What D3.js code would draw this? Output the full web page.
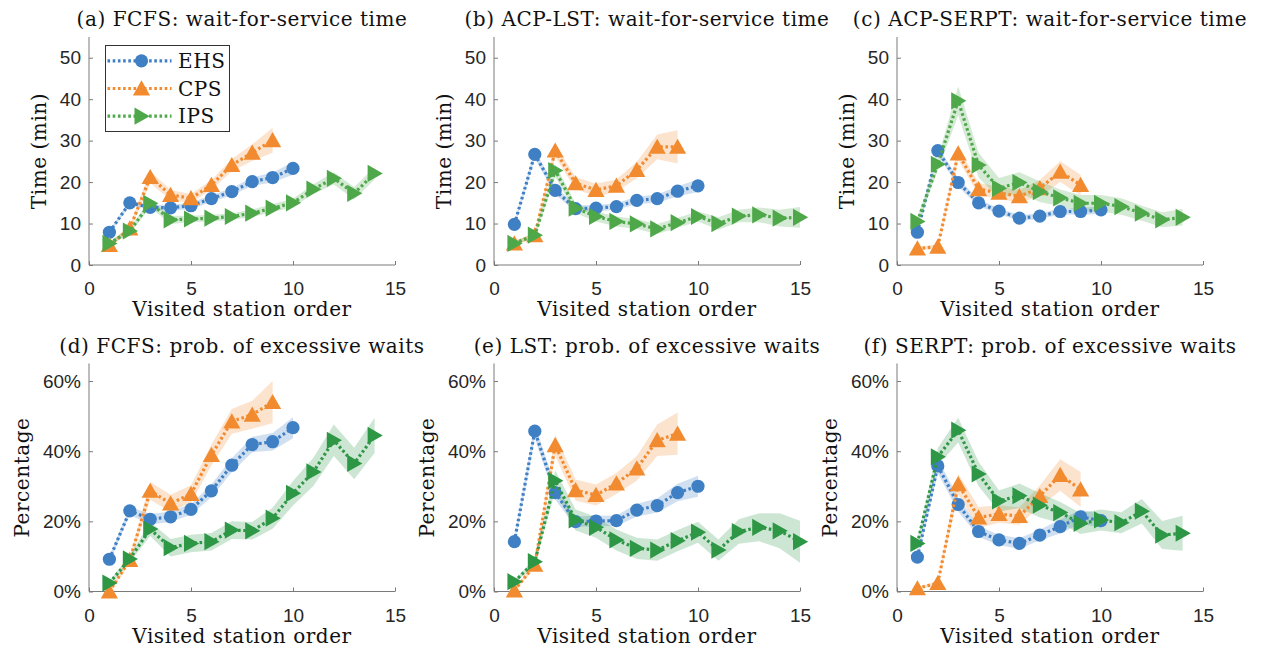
<!DOCTYPE html>
<html>
<head>
<meta charset="utf-8">
<script src="https://cdn.jsdelivr.net/npm/d3@7"></script>
<style>
  body { margin: 0; background: #fff; }
  svg { display: block; }
</style>
</head>
<body>
<svg id="chart" width="1269" height="653"></svg>
<script>
const seriesNames = ['EHS', 'CPS', 'IPS'];
const xTicks = [0, 5, 10, 15];
const timeTicks = [0, 10, 20, 30, 40, 50];
const pctTicks = [0, 20, 40, 60];
const titles = [
  '(a) FCFS: wait-for-service time',
  '(b) ACP-LST: wait-for-service time',
  '(c) ACP-SERPT: wait-for-service time',
  '(d) FCFS: prob. of excessive waits',
  '(e) LST: prob. of excessive waits',
  '(f) SERPT: prob. of excessive waits'
];

// (a) FCFS, wait time (min), mean and CI half width
const aEHS = [7.9, 15.0, 13.9, 13.8, 14.3, 16.0, 17.7, 20.1, 21.1, 23.3];
const aEHSci = [0.5, 0.6, 0.7, 0.7, 0.8, 0.8, 0.9, 1.0, 1.2, 1.5];
const aCPS = [4.8, 8.8, 21.2, 16.9, 16.1, 19.3, 24.1, 27.1, 30.1];
const aCPSci = [0.5, 0.7, 1.5, 1.2, 1.0, 1.2, 1.5, 2.0, 3.0];
const aIPS = [5.2, 8.2, 14.9, 10.9, 11.1, 11.3, 11.7, 12.5, 13.7, 15.0, 18.3, 20.9, 17.3, 22.1];
const aIPSci = [0.5, 0.7, 1.0, 1.0, 0.8, 0.8, 0.8, 0.9, 1.0, 1.0, 1.2, 1.5, 1.5, 1.5];

// (b) ACP-LST, wait time (min)
const bEHS = [9.8, 26.7, 18.0, 13.6, 13.7, 14.1, 15.6, 16.0, 17.8, 19.1];
const bEHSci = [0.6, 1.0, 1.0, 0.8, 0.8, 0.8, 0.9, 1.0, 1.2, 1.5];
const bCPS = [5.2, 7.2, 27.6, 19.7, 18.1, 19.1, 22.9, 28.5, 28.5];
const bCPSci = [0.5, 0.6, 1.5, 1.5, 1.5, 1.5, 2.0, 3.0, 4.0];
const bIPS = [5.2, 7.2, 22.8, 13.7, 11.7, 10.5, 9.9, 8.7, 10.2, 11.7, 10.0, 11.8, 12.1, 11.3, 11.5];
const bIPSci = [0.5, 0.6, 1.5, 1.2, 1.2, 1.2, 1.2, 1.2, 1.2, 1.2, 1.5, 1.5, 1.8, 2.0, 2.5];

// (c) ACP-SERPT, wait time (min)
const cEHS = [7.9, 27.6, 19.9, 15.0, 13.0, 11.3, 11.8, 12.9, 12.9, 13.3];
const cEHSci = [0.5, 1.0, 1.0, 0.8, 0.7, 0.7, 0.7, 0.7, 0.8, 1.0];
const cCPS = [4.0, 4.4, 26.9, 18.3, 17.4, 16.6, 18.5, 22.5, 19.3];
const cCPSci = [0.4, 0.5, 1.5, 1.5, 1.5, 1.5, 2.0, 2.5, 2.5];
const cIPS = [10.5, 24.3, 39.6, 24.1, 18.5, 19.9, 17.7, 16.2, 14.9, 14.9, 14.1, 12.5, 10.9, 11.5];
const cIPSci = [1.0, 1.5, 3.5, 3.0, 2.5, 2.5, 2.5, 2.0, 2.0, 2.0, 2.0, 1.8, 1.8, 2.0];

// (d) FCFS, excessive waits (%)
const dEHS = [9.2, 23.0, 20.6, 21.3, 23.4, 28.7, 36.0, 41.9, 42.7, 46.7];
const dEHSci = [0.8, 1.2, 1.5, 1.5, 1.5, 1.8, 2.0, 2.2, 2.5, 3.0];
const dCPS = [0.0, 9.0, 28.7, 25.1, 27.8, 38.9, 48.5, 50.4, 54.0];
const dCPSci = [0.3, 1.0, 2.5, 2.5, 2.5, 3.0, 3.5, 4.0, 6.0];
const dIPS = [2.4, 9.3, 17.8, 12.5, 13.7, 14.2, 17.5, 17.3, 20.9, 28.0, 34.1, 43.1, 36.5, 44.5];
const dIPSci = [0.5, 1.0, 2.0, 2.5, 2.5, 2.5, 2.5, 2.5, 3.0, 3.5, 4.0, 4.5, 4.5, 5.0];

// (e) LST, excessive waits (%)
const eEHS = [14.2, 45.7, 28.2, 19.9, 20.1, 20.2, 23.2, 24.5, 28.2, 30.0];
const eEHSci = [1.0, 2.0, 2.0, 1.5, 1.5, 1.5, 1.8, 2.0, 2.5, 3.0];
const eCPS = [0.3, 7.6, 41.7, 28.9, 27.5, 30.8, 35.1, 43.1, 45.0];
const eCPSci = [0.3, 1.0, 3.0, 3.0, 3.0, 3.0, 3.5, 4.5, 6.0];
const eIPS = [2.8, 8.5, 31.6, 20.4, 18.3, 14.7, 12.3, 11.8, 14.5, 16.9, 11.8, 17.1, 18.3, 17.3, 14.2];
const eIPSci = [0.5, 1.0, 3.0, 3.0, 3.0, 3.0, 3.0, 3.0, 3.0, 3.0, 3.0, 3.5, 4.0, 5.0, 6.0];

// (f) SERPT, excessive waits (%)
const fEHS = [9.8, 35.8, 24.8, 17.1, 14.7, 13.7, 16.1, 18.5, 21.3, 20.2];
const fEHSci = [1.0, 2.0, 2.0, 1.5, 1.5, 1.5, 1.5, 2.0, 2.0, 2.0];
const fCPS = [0.9, 2.4, 30.6, 21.1, 22.1, 21.5, 27.2, 33.2, 29.1];
const fCPSci = [0.3, 0.5, 3.0, 3.0, 2.5, 2.5, 3.0, 4.5, 5.0];
const fIPS = [13.7, 38.4, 46.0, 33.5, 25.8, 27.3, 24.6, 22.5, 19.4, 20.4, 19.6, 22.9, 16.1, 16.6];
const fIPSci = [1.0, 2.5, 3.5, 3.5, 3.0, 3.5, 3.5, 3.0, 3.0, 3.0, 3.0, 3.5, 4.0, 5.0];

const topColors = ['#3f7fc4', '#f28b30', '#4ea84a'];
const botColors = ['#3f7fc4', '#f28b30', '#2e9746'];
const serif = '"DejaVu Serif", "Liberation Serif", serif';
const sans = '"Liberation Sans", Arial, sans-serif';

const colX = [89, 494, 897];
const plotW = 306;
const plotH = 228;

const panels = [
  { title: titles[0], col: 0, top: 37, yMax: 55, ticks: timeTicks, pct: false, series: [[aEHS, aEHSci], [aCPS, aCPSci], [aIPS, aIPSci]], legend: true },
  { title: titles[1], col: 1, top: 37, yMax: 55, ticks: timeTicks, pct: false, series: [[bEHS, bEHSci], [bCPS, bCPSci], [bIPS, bIPSci]] },
  { title: titles[2], col: 2, top: 37, yMax: 55, ticks: timeTicks, pct: false, series: [[cEHS, cEHSci], [cCPS, cCPSci], [cIPS, cIPSci]] },
  { title: titles[3], col: 0, top: 363.5, yMax: 65, ticks: pctTicks, pct: true, series: [[dEHS, dEHSci], [dCPS, dCPSci], [dIPS, dIPSci]] },
  { title: titles[4], col: 1, top: 363.5, yMax: 65, ticks: pctTicks, pct: true, series: [[eEHS, eEHSci], [eCPS, eCPSci], [eIPS, eIPSci]] },
  { title: titles[5], col: 2, top: 363.5, yMax: 65, ticks: pctTicks, pct: true, series: [[fEHS, fEHSci], [fCPS, fCPSci], [fIPS, fIPSci]] }
];

const svg = d3.select('#chart');

// serif text in the LaTeX-like style of the figure
function serifText(sel) {
  return sel.style('font-family', serif).style('font-size', '20px')
    .style('letter-spacing', '0.55px').attr('fill', '#111');
}

// marker shapes (circle, up triangle, right triangle)
function drawMarker(sel, k, color) {
  if (k === 0) {
    sel.append('circle').attr('r', 6.6).attr('fill', color);
  } else if (k === 1) {
    sel.append('path').attr('d', 'M0,-8.2L8.6,7L-8.6,7Z').attr('fill', color);
  } else {
    sel.append('path').attr('d', 'M-7,-8.6L8.2,0L-7,8.6Z').attr('fill', color);
  }
}

panels.forEach((p) => {
  const colors = p.pct ? botColors : topColors;
  const g = svg.append('g').attr('transform', `translate(${colX[p.col]},${p.top})`);

  const x = d3.scaleLinear().domain([0, 15]).range([0, plotW]);
  const y = d3.scaleLinear().domain([0, p.yMax]).range([plotH, 0]);

  // axes
  const xAxis = g.append('g')
    .attr('transform', `translate(0,${plotH})`)
    .call(d3.axisBottom(x).tickValues(xTicks).tickSizeInner(-4).tickSizeOuter(0).tickPadding(17));
  const yAxis = g.append('g')
    .call(d3.axisLeft(y).tickValues(p.ticks).tickSizeInner(-4).tickSizeOuter(0).tickPadding(8)
      .tickFormat(d => p.pct ? d + '%' : d));
  [xAxis, yAxis].forEach((a) => {
    a.select('.domain').attr('stroke', '#7a7a7a').attr('stroke-width', 1);
    a.selectAll('.tick line').attr('stroke', '#7a7a7a');
    a.selectAll('.tick text').attr('fill', '#262626').style('font-family', sans).style('font-size', '19px');
  });
  // the y axis line runs to the top of the plot
  yAxis.select('.domain').attr('d', `M0,${plotH}V0`);
  xAxis.select('.domain').attr('d', `M0,0H${plotW}`);

  // title and labels
  g.append('text')
    .attr('x', plotW / 2).attr('y', -11)
    .attr('text-anchor', 'middle')
    .call(serifText)
    .text(p.title);
  g.append('text')
    .attr('x', plotW / 2).attr('y', plotH + 51)
    .attr('text-anchor', 'middle')
    .call(serifText)
    .text('Visited station order');
  g.append('text')
    .attr('transform', `translate(${p.pct ? -60 : -43},${plotH / 2}) rotate(-90)`)
    .attr('text-anchor', 'middle')
    .call(serifText)
    .text(p.pct ? 'Percentage' : 'Time (min)');

  // confidence bands
  p.series.forEach(([vals, ci], k) => {
    const area = d3.area()
      .x((d, i) => x(i + 1))
      .y0((d, i) => y(d - ci[i]))
      .y1((d, i) => y(d + ci[i]));
    g.append('path').datum(vals)
      .attr('d', area)
      .attr('fill', colors[k])
      .attr('fill-opacity', 0.24);
  });

  // dotted lines and markers
  p.series.forEach(([vals], k) => {
    const line = d3.line().x((d, i) => x(i + 1)).y(d => y(d));
    g.append('path').datum(vals)
      .attr('d', line)
      .attr('fill', 'none')
      .attr('stroke', colors[k])
      .attr('stroke-width', 3.2)
      .attr('stroke-dasharray', '2.6,2.6');
    g.selectAll(null).data(vals).enter().append('g')
      .attr('transform', (d, i) => `translate(${x(i + 1)},${y(d)})`)
      .each(function () { drawMarker(d3.select(this), k, colors[k]); });
  });

  // legend
  if (p.legend) {
    const lg = svg.append('g').attr('transform', 'translate(105.5,45.5)');
    lg.append('rect').attr('width', 124).attr('height', 86)
      .attr('fill', '#fff').attr('stroke', '#333').attr('stroke-width', 1);
    seriesNames.forEach((name, k) => {
      const row = lg.append('g').attr('transform', `translate(0,${15.3 + k * 27.7})`);
      row.append('line').attr('x1', 2).attr('x2', 66)
        .attr('stroke', colors[k]).attr('stroke-width', 3.2).attr('stroke-dasharray', '2.6,2.6');
      const m = row.append('g').attr('transform', 'translate(36,0)');
      drawMarker(m, k, colors[k]);
      row.append('text').attr('x', 72.5).attr('y', 7)
        .call(serifText)
        .text(name);
    });
  }
});
</script>
</body>
</html>
